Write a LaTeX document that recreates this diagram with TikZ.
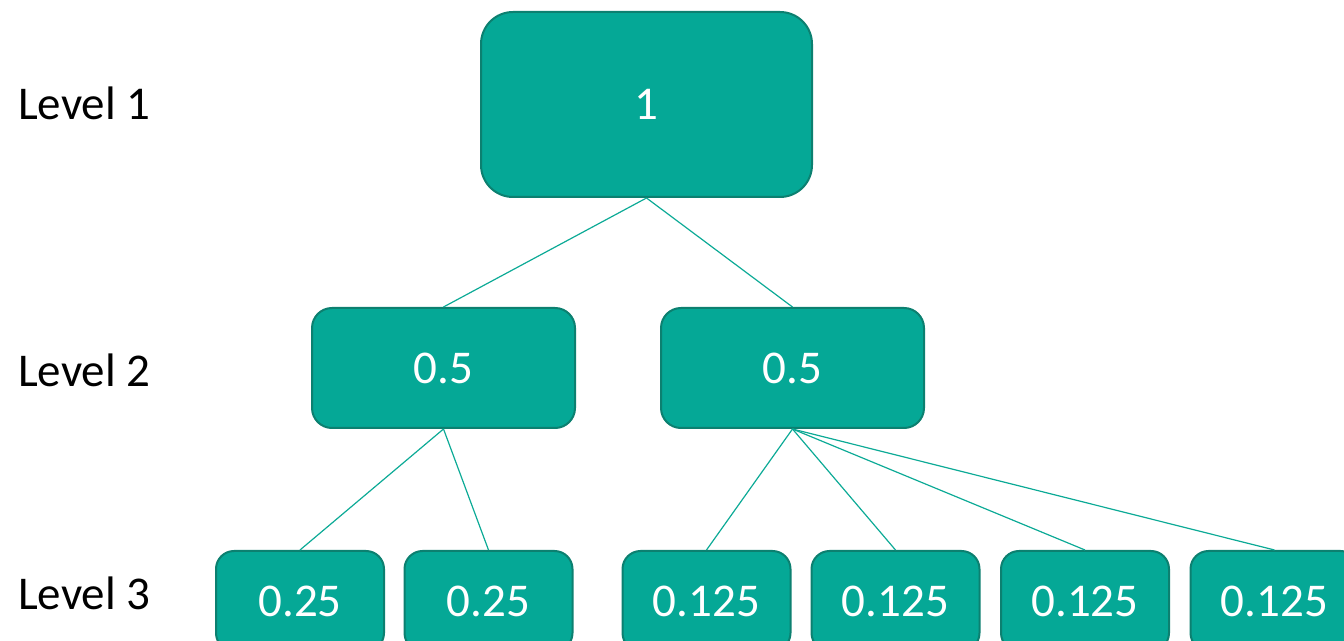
\documentclass[tikz,border=0pt]{standalone}
\usepackage{fontspec}
\setmainfont{Carlito}
\definecolor{boxfill}{RGB}{5,168,150}
\definecolor{boxdraw}{RGB}{12,128,112}
\definecolor{linkcol}{RGB}{12,170,150}
\begin{document}
\begin{tikzpicture}[x=1pt,y=1pt,
  box/.style={draw=boxdraw,line width=2pt,fill=boxfill,text=white,
    font=\fontsize{47}{56}\selectfont,inner sep=0pt},
  topbox/.style={box,rounded corners=32pt,minimum width=331pt,minimum height=185pt},
  midbox/.style={box,rounded corners=20pt,minimum width=263pt,minimum height=120pt},
  lowbox/.style={box,rounded corners=18pt,minimum width=168pt,minimum height=100pt},
  link/.style={draw=linkcol,line width=1.2pt},
  lvl/.style={anchor=west,inner sep=0pt,font=\fontsize{47}{56}\selectfont}]
\useasboundingbox (0,0) rectangle (1344,640);
\clip (0,0) rectangle (1344,640);
\node[topbox] (top) at (646.5,535.5) {1};
\node[midbox] (ma) at (443.5,272) {0.5};
\node[midbox] (mb) at (792.5,272) {0.5};
\node[lowbox] (la) at (300,39) {0.25};
\node[lowbox] (lb) at (488.5,39) {0.25};
\node[lowbox] (ra) at (706.5,39) {0.125};
\node[lowbox] (rb) at (895.5,39) {0.125};
\node[lowbox] (rc) at (1085,39) {0.125};
\node[lowbox] (rd) at (1274.5,39) {0.125};
\node[lvl] (l1) at (18,537) {Level 1};
\node[lvl] (l2) at (18,270) {Level 2};
\node[lvl] (l3) at (18,47) {Level 3};
\draw[link] (top.south) -- (ma.north);
\draw[link] (top.south) -- (mb.north);
\draw[link] (ma.south) -- (la.north);
\draw[link] (ma.south) -- (lb.north);
\draw[link] (mb.south) -- (ra.north);
\draw[link] (mb.south) -- (rb.north);
\draw[link] (mb.south) -- (rc.north);
\draw[link] (mb.south) -- (rd.north);
\end{tikzpicture}
\end{document}
